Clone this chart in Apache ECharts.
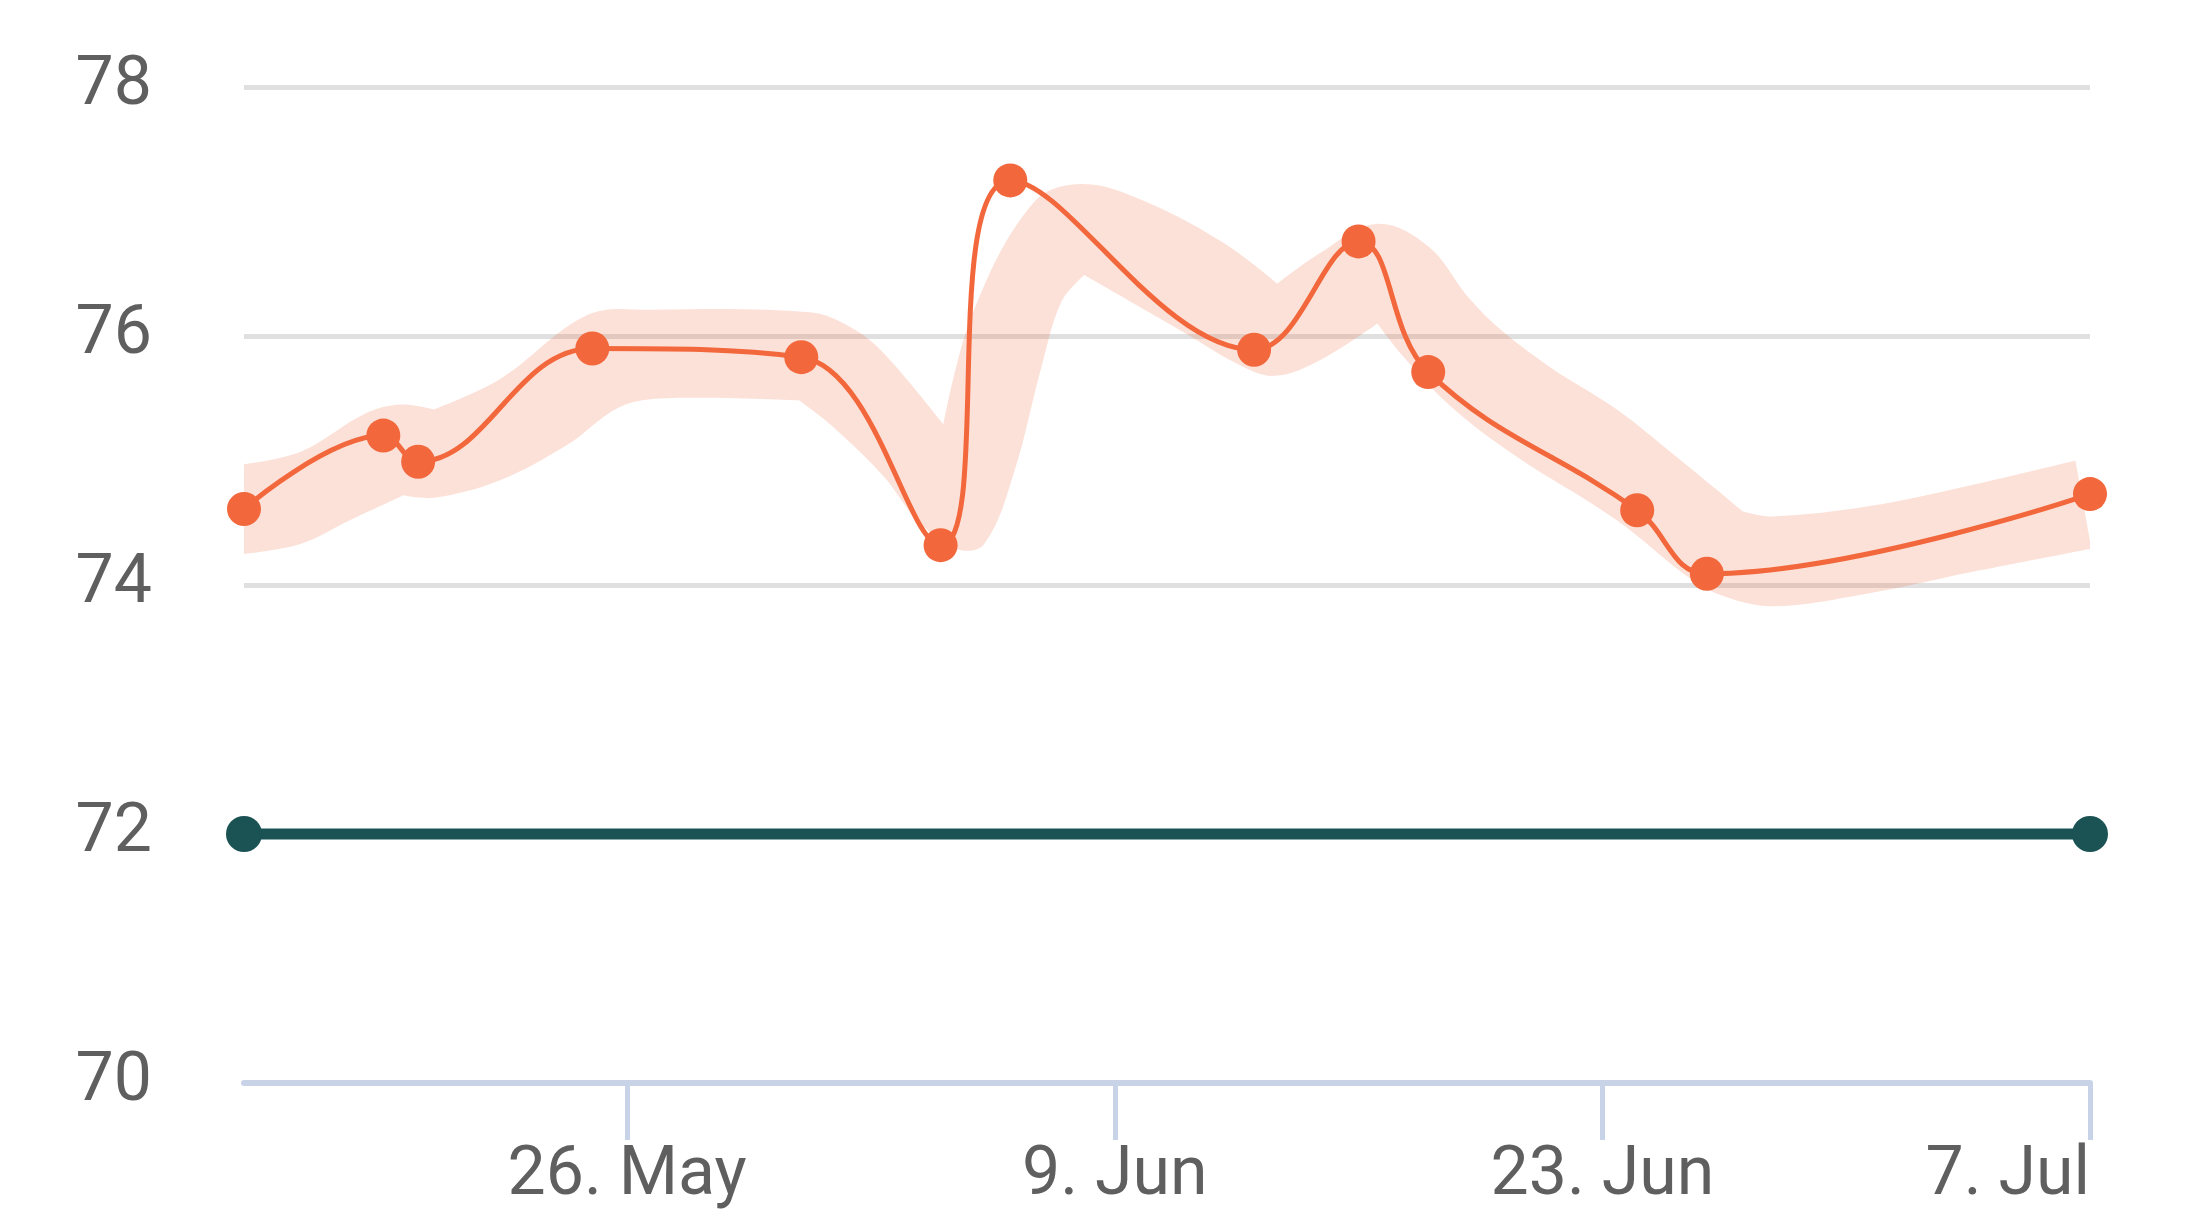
<!DOCTYPE html>
<html>
<head>
<meta charset="utf-8">
<script src="https://cdn.jsdelivr.net/npm/echarts@6/dist/echarts.min.js"></script>
<style>
html,body{margin:0;padding:0;background:#fff;}
#chart{width:2196px;height:1218px;}
</style>
</head>
<body>
<div id="chart"></div>
<script>
// ---- data ----
var dates = ['2024-05-15','2024-05-19','2024-05-20','2024-05-25','2024-05-31','2024-06-04','2024-06-06','2024-06-13','2024-06-16','2024-06-18','2024-06-24','2024-06-26','2024-07-07'];
var values = [74.61, 75.20, 74.99, 75.90, 75.83, 74.32, 77.25, 75.89, 76.76, 75.71, 74.60, 74.09, 74.73];

var targetDates = ['2024-05-15', '2024-07-07'];
var targetValues = [72, 72];

// band upper edge [date, value]
var bandUpper = [
  ['2024-05-15 00:00', 74.97], ['2024-05-16 15:00', 75.07], ['2024-05-18 12:00', 75.38],
  ['2024-05-19 12:00', 75.45], ['2024-05-20 11:00', 75.41], ['2024-05-22 08:00', 75.65],
  ['2024-05-24 21:00', 76.17], ['2024-05-26 16:00', 76.21], ['2024-05-31 06:00', 76.19],
  ['2024-06-01 10:00', 76.07], ['2024-06-02 09:00', 75.86], ['2024-06-04 02:00', 75.29],
  ['2024-06-04 22:00', 76.18], ['2024-06-06 16:00', 77.07], ['2024-06-08 02:00', 77.22],
  ['2024-06-09 23:00', 77.07], ['2024-06-12 04:00', 76.74], ['2024-06-13 16:00', 76.42],
  ['2024-06-14 22:00', 76.67], ['2024-06-16 12:00', 76.90], ['2024-06-18 00:00', 76.72],
  ['2024-06-19 03:00', 76.32], ['2024-06-20 02:00', 76.05], ['2024-06-21 12:00', 75.75],
  ['2024-06-23 10:00', 75.41], ['2024-06-25 03:00', 75.03], ['2024-06-27 01:00', 74.59],
  ['2024-06-27 21:00', 74.55], ['2024-06-30 14:00', 74.63], ['2024-07-03 21:00', 74.82],
  ['2024-07-06 14:00', 75.00], ['2024-07-07 00:00', 74.36]
];
var bandUpperKinks = [4, 11, 17, 26, 30];

// band lower edge [date, value]
var bandLower = [
  ['2024-05-15 00:00', 74.25], ['2024-05-16 15:00', 74.33], ['2024-05-18 01:00', 74.52],
  ['2024-05-19 14:00', 74.72], ['2024-05-20 11:00', 74.70], ['2024-05-22 08:00', 74.84],
  ['2024-05-24 06:00', 75.12], ['2024-05-25 19:00', 75.43], ['2024-05-27 03:00', 75.50],
  ['2024-05-30 23:00', 75.48], ['2024-05-31 22:00', 75.27], ['2024-06-02 09:00', 74.87],
  ['2024-06-03 08:00', 74.52], ['2024-06-04 11:00', 74.29], ['2024-06-05 06:00', 74.33],
  ['2024-06-06 03:00', 74.92], ['2024-06-06 21:00', 75.73], ['2024-06-07 11:00', 76.27],
  ['2024-06-08 03:00', 76.49], ['2024-06-11 01:00', 76.02], ['2024-06-12 12:00', 75.78],
  ['2024-06-13 14:00', 75.68], ['2024-06-14 22:00', 75.81], ['2024-06-16 13:00', 76.10],
  ['2024-06-17 05:00', 75.86], ['2024-06-18 16:00', 75.43], ['2024-06-20 13:00', 75.03],
  ['2024-06-23 10:00', 74.52], ['2024-06-25 08:00', 74.09], ['2024-06-26 07:00', 73.93],
  ['2024-06-27 21:00', 73.83], ['2024-06-30 14:00', 73.93], ['2024-07-03 21:00', 74.12],
  ['2024-07-07 00:00', 74.29]
];
var bandLowerKinks = [3, 9, 18, 23];

var xTicks = ['2024-05-26', '2024-06-09', '2024-06-23', '2024-07-07'];
var yTicks = [70, 72, 74, 76, 78];
var monthNames = ['Jan','Feb','Mar','Apr','May','Jun','Jul','Aug','Sep','Oct','Nov','Dec'];

// ---- helpers ----
function t(s) {
  var p = s.split(/[- :]/).map(Number);
  return new Date(p[0], p[1] - 1, p[2], p[3] || 0, p[4] || 0).getTime();
}

function smoothSegs(pts, kinks, k) {
  var n = pts.length, cin = [], cout = [];
  for (var i = 0; i < n; i++) {
    var p = pts[i];
    if (kinks.indexOf(i) >= 0 || i === 0 || i === n - 1) {
      cin.push([p[0], p[1]]);
      cout.push([p[0], p[1]]);
      continue;
    }
    var pr = pts[i - 1], nx = pts[i + 1];
    var dx = nx[0] - pr[0], dy = nx[1] - pr[1];
    var len = Math.sqrt(dx * dx + dy * dy) || 1;
    dx /= len; dy /= len;
    var dp = Math.hypot(p[0] - pr[0], p[1] - pr[1]);
    var dn = Math.hypot(nx[0] - p[0], nx[1] - p[1]);
    cin.push([p[0] - dx * dp * k, p[1] - dy * dp * k]);
    cout.push([p[0] + dx * dn * k, p[1] + dy * dn * k]);
  }
  var d = '';
  for (var j = 0; j < n - 1; j++) {
    d += ' C' + cout[j][0].toFixed(2) + ' ' + cout[j][1].toFixed(2) + ' ' +
         cin[j + 1][0].toFixed(2) + ' ' + cin[j + 1][1].toFixed(2) + ' ' +
         pts[j + 1][0].toFixed(2) + ' ' + pts[j + 1][1].toFixed(2);
  }
  return d;
}

var chart = echarts.init(document.getElementById('chart'), null, {renderer: 'canvas'});

var labelFont = 'Roboto';
var xTickValues = xTicks.map(t);
var option = {
  animation: false,
  backgroundColor: '#ffffff',
  grid: {left: 244, right: 106, top: 87, bottom: 135, containLabel: false},
  xAxis: {
    type: 'value',
    min: t(dates[0]),
    max: t(dates[dates.length - 1]),
    axisLine: {show: true, lineStyle: {color: '#C8D3E8', width: 6}},
    axisTick: {show: true, length: 57, lineStyle: {color: '#C8D3E8', width: 5},
      customValues: xTickValues},
    axisLabel: {
      customValues: xTickValues,
      color: '#5f5f5f', fontFamily: labelFont, fontSize: 68, margin: 60,
      alignMaxLabel: 'right',
      formatter: function (v) { var d = new Date(v); return d.getDate() + '. ' + monthNames[d.getMonth()]; }
    },
    splitLine: {show: false}
  },
  yAxis: {
    type: 'value',
    min: yTicks[0], max: yTicks[yTicks.length - 1], interval: 2,
    axisLine: {show: false},
    axisTick: {show: false},
    axisLabel: {color: '#5f5f5f', fontFamily: labelFont, fontSize: 68, margin: 92},
    splitLine: {show: true, lineStyle: {color: '#E0E0E0', width: 5}}
  },
  series: [
    {
      type: 'custom',
      coordinateSystem: 'cartesian2d',
      silent: true,
      z: 1,
      data: [[t(bandUpper[0][0]), bandUpper[0][1]]],
      renderItem: function (params, api) {
        var up = bandUpper.map(function (p) { return api.coord([t(p[0]), p[1]]); });
        var lo = bandLower.map(function (p) { return api.coord([t(p[0]), p[1]]); }).reverse();
        var nLo = bandLower.length;
        var loK = bandLowerKinks.map(function (i) { return nLo - 1 - i; });
        var d = 'M' + up[0][0].toFixed(2) + ' ' + up[0][1].toFixed(2) + smoothSegs(up, bandUpperKinks, 0.35) +
                ' L' + lo[0][0].toFixed(2) + ' ' + lo[0][1].toFixed(2) + smoothSegs(lo, loK, 0.35) + ' Z';
        return {type: 'path', shape: {pathData: d}, style: {fill: 'rgba(242,104,60,0.2)', stroke: null}};
      }
    },
    {
      type: 'line',
      z: 3,
      data: dates.map(function (d, i) { return [t(d), values[i]]; }),
      smooth: 0.4,
      symbol: 'circle',
      symbolSize: 34,
      showSymbol: true,
      lineStyle: {color: '#F2683C', width: 5},
      itemStyle: {color: '#F2683C'}
    },
    {
      type: 'line',
      z: 3,
      data: targetDates.map(function (d, i) { return [t(d), targetValues[i]]; }),
      symbol: 'circle',
      symbolSize: 36,
      lineStyle: {color: '#1B5253', width: 11},
      itemStyle: {color: '#1B5253'}
    }
  ]
};
chart.setOption(option);
</script>
</body>
</html>
